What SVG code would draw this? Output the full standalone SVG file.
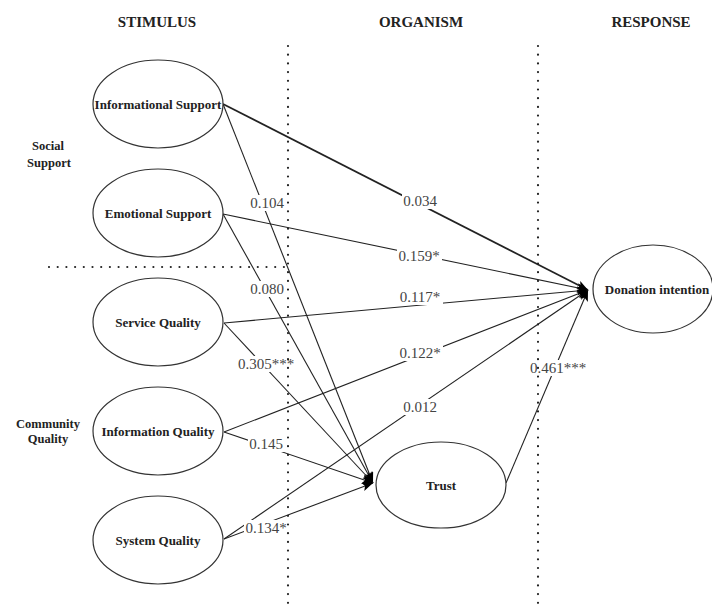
<svg xmlns="http://www.w3.org/2000/svg" width="712" height="604" viewBox="0 0 712 604">
<style>
.hdr{font-family:"Liberation Serif","Times New Roman",serif;font-weight:bold;font-size:15px;fill:#222;text-anchor:middle}
.side{font-family:"Liberation Serif","Times New Roman",serif;font-weight:bold;font-size:12.5px;fill:#222;text-anchor:middle}
.node ellipse{fill:#fff;stroke:#333;stroke-width:1.2}
.node text{font-family:"Liberation Serif","Times New Roman",serif;font-weight:bold;font-size:13px;fill:#222;text-anchor:middle}
.edge{stroke:#222;stroke-width:1.1;fill:none;marker-end:url(#arr)}
.thick{stroke-width:1.7}
.lbl{font-family:"Liberation Serif","Times New Roman",serif;font-size:15px;fill:#444;text-anchor:middle}
.lblbg{fill:#fff}
.dot{stroke:#222;stroke-width:2.2;stroke-linecap:round;stroke-dasharray:0 8.7;fill:none}
</style>
<defs>
<marker id="arr" markerUnits="userSpaceOnUse" markerWidth="12" markerHeight="10" refX="11" refY="4.5" orient="auto">
<path d="M0,0 L11,4.5 L0,9 L2.5,4.5 z" fill="#000"/>
</marker>
</defs>
<rect width="712" height="604" fill="#fff"/>

<text class="hdr" x="157" y="27">STIMULUS</text>
<text class="hdr" x="421" y="27">ORGANISM</text>
<text class="hdr" x="651" y="27">RESPONSE</text>

<text class="side" x="48" y="150">Social</text>
<text class="side" x="49" y="167">Support</text>
<text class="side" x="48" y="428">Community</text>
<text class="side" x="48" y="443">Quality</text>

<g id="connectors">
<line class="edge thick" x1="223" y1="104" x2="588" y2="290"/>
<line class="edge" x1="223" y1="104" x2="373" y2="483"/>
<line class="edge" x1="223" y1="214" x2="588" y2="290"/>
<line class="edge" x1="223" y1="214" x2="373" y2="483"/>
<line class="edge" x1="224" y1="323" x2="588" y2="290"/>
<line class="edge" x1="224" y1="323" x2="373" y2="483"/>
<line class="edge" x1="224" y1="432" x2="588" y2="290"/>
<line class="edge" x1="224" y1="432" x2="373" y2="483"/>
<line class="edge" x1="224" y1="539" x2="588" y2="290"/>
<line class="edge" x1="224" y1="539" x2="373" y2="483"/>
<line class="edge" x1="506" y1="483" x2="588" y2="290"/>

<rect class="lblbg" x="249" y="195" width="37" height="16"/>
<text class="lbl" x="267" y="208">0.104</text>
<rect class="lblbg" x="402" y="193" width="37" height="16"/>
<text class="lbl" x="420" y="206">0.034</text>
<rect class="lblbg" x="397" y="248" width="45" height="16"/>
<text class="lbl" x="419" y="261">0.159*</text>
<rect class="lblbg" x="249" y="281" width="37" height="16"/>
<text class="lbl" x="267" y="294">0.080</text>
<rect class="lblbg" x="398" y="289" width="45" height="16"/>
<text class="lbl" x="420" y="302">0.117*</text>
<rect class="lblbg" x="237" y="356" width="59" height="16"/>
<text class="lbl" x="266" y="369">0.305***</text>
<rect class="lblbg" x="398" y="345" width="45" height="16"/>
<text class="lbl" x="420" y="358">0.122*</text>
<rect class="lblbg" x="529" y="360" width="58" height="16"/>
<text class="lbl" x="558" y="373">0.461***</text>
<rect class="lblbg" x="402" y="399" width="37" height="16"/>
<text class="lbl" x="420" y="412">0.012</text>
<rect class="lblbg" x="248" y="436" width="37" height="16"/>
<text class="lbl" x="266" y="449">0.145</text>
<rect class="lblbg" x="244" y="520" width="45" height="16"/>
<text class="lbl" x="266" y="533">0.134*</text>
</g>

<g id="n-informational-support" class="node">
<ellipse cx="158" cy="104" rx="65" ry="44"/>
<text x="158" y="109">Informational Support</text>
</g>
<g id="n-emotional-support" class="node">
<ellipse cx="158" cy="213" rx="65" ry="44"/>
<text x="158" y="218">Emotional Support</text>
</g>
<g id="n-service-quality" class="node">
<ellipse cx="158" cy="322" rx="65" ry="44"/>
<text x="158" y="327">Service Quality</text>
</g>
<g id="n-information-quality" class="node">
<ellipse cx="158" cy="431" rx="65" ry="44"/>
<text x="158" y="436">Information Quality</text>
</g>
<g id="n-system-quality" class="node">
<ellipse cx="158" cy="540" rx="65" ry="44"/>
<text x="158" y="545">System Quality</text>
</g>
<g id="n-trust" class="node">
<ellipse cx="441" cy="485" rx="65" ry="43"/>
<text x="441" y="490">Trust</text>
</g>
<g id="n-donation-intention" class="node">
<ellipse cx="653" cy="289" rx="60" ry="44"/>
<text x="657" y="294">Donation intention</text>
</g>

<line class="dot" x1="288" y1="46" x2="288" y2="604"/>
<line class="dot" x1="538" y1="46" x2="538" y2="604"/>
<line class="dot" x1="49" y1="267" x2="288" y2="267"/>
</svg>
